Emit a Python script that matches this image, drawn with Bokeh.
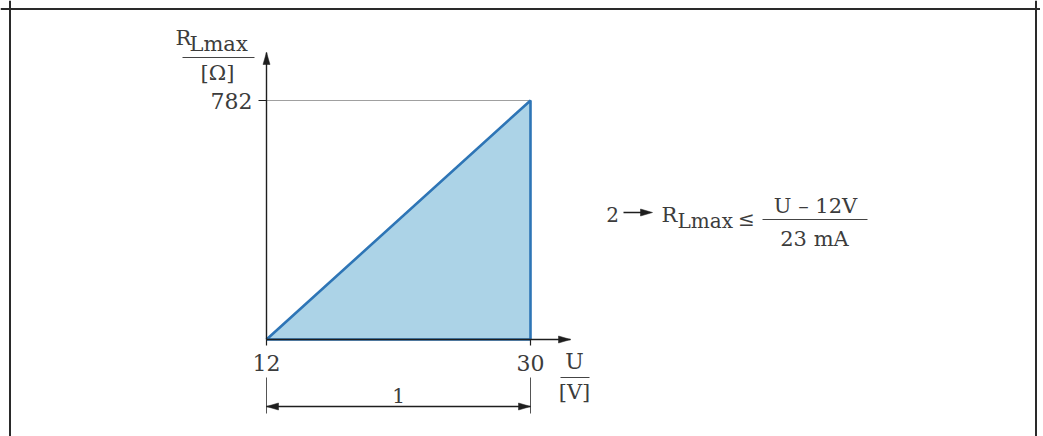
from bokeh.plotting import figure
from bokeh.models import Range1d, LinearAxis, FixedTicker, Span
from bokeh.core.properties import value
from bokeh.embed import file_html
from bokeh.resources import INLINE

# ---- data ----
u_values = [12, 30]          # supply voltage U [V]
r_values = [0, 782]          # R_Lmax [Ohm]
u_ticks = [12, 30]
r_ticks = [782]
u_tick_labels = {12: "12", 30: "30"}
r_tick_labels = {782: "782"}

# ---- layout (page pixels) ----
W, H = 1040, 436
OFF = 0
X0P, X1P = 266, 530     # page x of U=12 and U=30
Y0P, Y1P = 339, 100     # page y of R=0 and R=782

sx = (X1P - X0P) / (u_values[1] - u_values[0])
sy = (Y0P - Y1P) / (r_values[1] - r_values[0])

def X(px):
    return u_values[0] + (px - X0P) / sx

def Y(py):
    return r_values[0] + (Y0P - py) / sy

FONT = "DejaVu Serif"
TXT = "#3c3c3c"
AX = "#1e1e1e"

p = figure(width=W, height=H, output_backend="svg", toolbar_location=None,
           x_range=Range1d(X(OFF), X(OFF + W)), y_range=Range1d(Y(OFF + H), Y(OFF)),
           x_axis_type=None, y_axis_type=None, min_border=0)
p.grid.visible = False
p.outline_line_color = None
p.background_fill_color = "white"

# outer frame (top, left, right)
for loc, dim in [(X(9.5), "height"), (X(1035.5), "height")]:
    p.add_layout(Span(location=loc, dimension=dim, line_color="#2a2a2a", line_width=2))
p.add_layout(Span(location=Y(8.5), dimension="width", line_color="#2a2a2a", line_width=2))

# gridline at max value
p.segment(x0=[u_values[0]], y0=[r_values[1]], x1=[u_values[1]], y1=[r_values[1]],
          line_color="#a0a0a0", line_width=1)

# area
p.patch([u_values[0], u_values[1], u_values[1]], [r_values[0], r_values[1], r_values[0]],
        fill_color="#acd3e7", line_color="#2e75b6", line_width=2.6)

y_tip = Y(52)
x_tip = X(570)

yaxis = LinearAxis(fixed_location=u_values[0], ticker=FixedTicker(ticks=r_ticks),
                   bounds=(r_values[0], y_tip), major_label_overrides=r_tick_labels)
xaxis = LinearAxis(fixed_location=r_values[0], ticker=FixedTicker(ticks=u_ticks),
                   bounds=(u_values[0], x_tip), major_label_overrides=u_tick_labels)
for ax in (yaxis, xaxis):
    ax.axis_line_color = AX
    ax.axis_line_width = 1.4
    ax.major_tick_line_color = AX
    ax.major_tick_line_width = 1.2
    ax.major_tick_in = 0
    ax.minor_tick_line_color = None
    ax.major_label_text_font = FONT
    ax.major_label_text_font_size = "22px"
    ax.major_label_text_color = TXT
yaxis.major_tick_out = 8
yaxis.major_label_standoff = 6
xaxis.major_tick_out = 6
xaxis.major_label_standoff = 9
p.add_layout(yaxis, "left")
p.add_layout(xaxis, "below")

# arrow heads (12 px long, 7 px wide)
def head_up(xd, ytip):
    return [xd - 3.5 / sx, xd, xd + 3.5 / sx], [ytip - 12 / sy, ytip, ytip - 12 / sy]

def head_right(xtip, yd, sign=1):
    return [xtip - sign * 12 / sx, xtip, xtip - sign * 12 / sx], [yd + 3.5 / sy, yd, yd - 3.5 / sy]

hx, hy = head_up(u_values[0], y_tip)
p.patch(hx, hy, fill_color=AX, line_color=AX, line_width=0.5)
hx, hy = head_right(x_tip, r_values[0])
p.patch(hx, hy, fill_color=AX, line_color=AX, line_width=0.5)

# dimension line "1"
p.segment(x0=u_values, y0=[Y(377)] * 2, x1=u_values, y1=[Y(413)] * 2,
          line_color="#555555", line_width=1)
p.segment(x0=[u_values[0]], y0=[Y(406)], x1=[u_values[1]], y1=[Y(406)],
          line_color=AX, line_width=1.3)
hx, hy = head_right(u_values[1], Y(406))
p.patch(hx, hy, fill_color=AX, line_color=AX, line_width=0.5)
hx, hy = head_right(u_values[0], Y(406), sign=-1)
p.patch(hx, hy, fill_color=AX, line_color=AX, line_width=0.5)

def txt(xs, ys, s, size, align="center"):
    p.text(x=[xs], y=[ys], text=[s], text_font=value(FONT), text_font_size=size,
           text_color=TXT, text_align=align, text_baseline="middle")

txt((u_values[0] + u_values[1]) / 2, Y(395), "1", "20px")

# y-axis label
txt(X(175), Y(37), "R", "21px", "left")
txt(X(189), Y(43), "Lmax", "21px", "left")
p.segment(x0=[X(182)], y0=[Y(57)], x1=[X(254)], y1=[Y(57)], line_color="#444444", line_width=1)
txt(X(217), Y(72), "[Ω]", "21px")

# x-axis label
txt(X(574), Y(361), "U", "22px")
p.segment(x0=[X(560)], y0=[Y(377)], x1=[X(589)], y1=[Y(377)], line_color="#444444", line_width=1)
txt(X(574), Y(391), "[V]", "21px")

# formula
txt(X(612), Y(214), "2", "20px")
p.segment(x0=[X(623)], y0=[Y(212)], x1=[X(644)], y1=[Y(212)], line_color=AX, line_width=1.3)
hx, hy = head_right(X(652), Y(212))
p.patch(hx, hy, fill_color=AX, line_color=AX, line_width=0.5)
txt(X(661), Y(214), "R", "21px", "left")
txt(X(677), Y(220), "Lmax", "20px", "left")
txt(X(746), Y(218), "≤", "20px")
p.segment(x0=[X(762)], y0=[Y(219)], x1=[X(867)], y1=[Y(219)], line_color="#444444", line_width=1)
txt(X(815), Y(205), "U – 12V", "21px")
txt(X(814), Y(238), "23 mA", "21px")

open("out.html", "w").write(file_html(p, INLINE))
